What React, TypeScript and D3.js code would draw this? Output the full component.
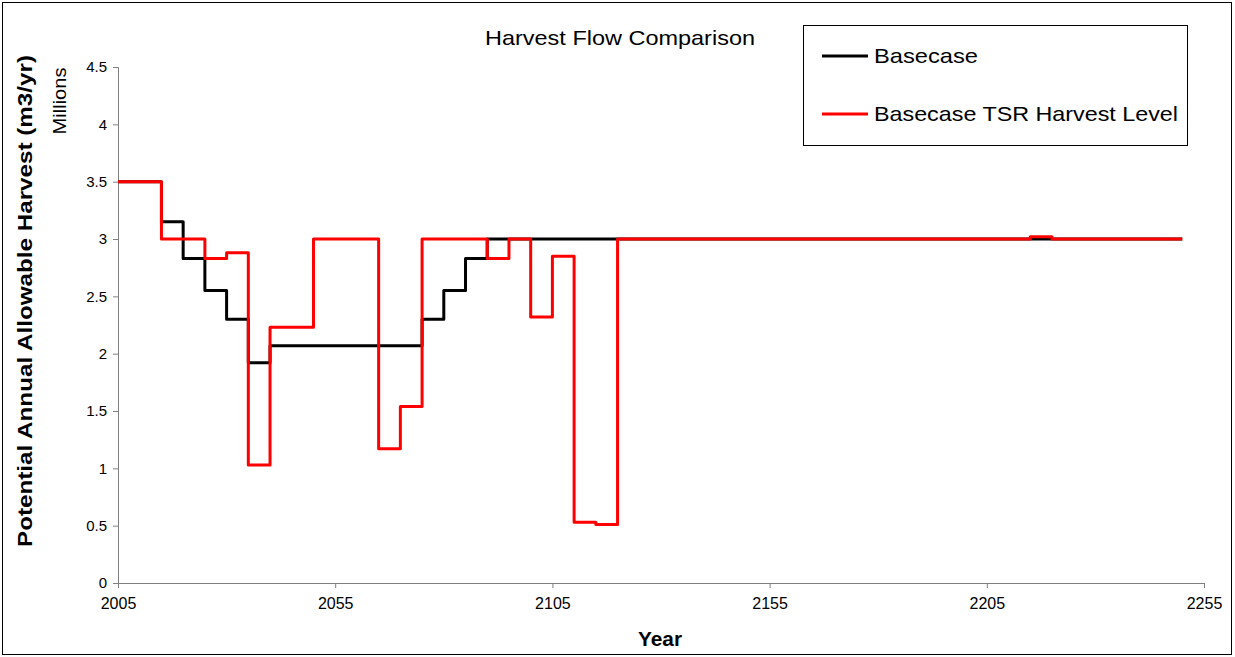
import React, { useEffect, useRef } from "react";
import * as d3 from "d3";

// Step change points (period start year -> value, millions m3/yr); last point closes the final period
const basecaseYears = [2005, 2015, 2020, 2025, 2030, 2035, 2040, 2075, 2080, 2085, 2090, 2250];
const basecaseValues = [3.5, 3.15, 2.83, 2.55, 2.3, 1.92, 2.07, 2.3, 2.55, 2.83, 3.0, 3.0];

const tsrYears = [2005, 2015, 2025, 2030, 2035, 2040, 2050, 2065, 2070, 2075, 2090, 2095, 2100, 2105, 2110, 2115, 2120, 2215, 2220, 2250];
const tsrValues = [3.5, 3.0, 2.83, 2.88, 1.03, 2.23, 3.0, 1.17, 1.54, 3.0, 2.83, 3.0, 2.32, 2.85, 0.53, 0.51, 3.0, 3.02, 3.0, 3.0];

const xTicks = [2005, 2055, 2105, 2155, 2205, 2255];
const yTicks = [0, 0.5, 1, 1.5, 2, 2.5, 3, 3.5, 4, 4.5];

const seriesNames = ["Basecase", "Basecase TSR Harvest Level"];
const seriesColors = ["#000000", "#ff0000"];

const W = 1235;
const H = 657;
const FONT = "'Liberation Sans', Arial, sans-serif";

export default function App() {
  const ref = useRef<SVGSVGElement>(null);

  useEffect(() => {
    const svg = d3.select(ref.current);
    svg.selectAll("*").remove();

    const x = d3.scaleLinear().domain([2005, 2255]).range([118, 1204]);
    const y = d3.scaleLinear().domain([0, 4.5]).range([583, 67]);

    svg.append("rect").attr("x", 0).attr("y", 0).attr("width", W).attr("height", H).attr("fill", "#fff");
    svg.append("rect").attr("x", 2.5).attr("y", 2.5).attr("width", 1229).attr("height", 652)
      .attr("fill", "none").attr("stroke", "#000").attr("stroke-width", 1);

    // Axes
    const yAxis = d3.axisLeft(y).tickValues(yTicks).tickSize(5).tickPadding(6).tickFormat((d) => String(d));
    const gy = svg.append("g").attr("transform", `translate(${x(2005)},0)`).call(yAxis);
    gy.select(".domain").attr("stroke", "#808080");
    gy.selectAll(".tick line").attr("stroke", "#808080");
    gy.selectAll("text").attr("font-family", FONT).attr("font-size", 15).attr("fill", "#000");

    const xAxis = d3.axisBottom(x).tickValues(xTicks).tickSize(5).tickPadding(10).tickFormat((d) => String(d));
    const gx = svg.append("g").attr("transform", `translate(0,${y(0)})`).call(xAxis);
    gx.select(".domain").attr("stroke", "#808080");
    gx.selectAll(".tick line").attr("stroke", "#808080");
    gx.selectAll("text").attr("font-family", FONT).attr("font-size", 16).attr("fill", "#000");

    const line = d3.line<[number, number]>()
      .x((d) => x(d[0]))
      .y((d) => y(d[1]))
      .curve(d3.curveStepAfter);

    const series = [
      basecaseYears.map((yr, i) => [yr, basecaseValues[i]] as [number, number]),
      tsrYears.map((yr, i) => [yr, tsrValues[i]] as [number, number]),
    ];
    series.forEach((pts, i) => {
      svg.append("path").attr("d", line(pts) as string)
        .attr("fill", "none").attr("stroke", seriesColors[i]).attr("stroke-width", 3)
        .attr("stroke-linejoin", "round");
    });

    // Titles
    svg.append("text").attr("x", 620).attr("y", 45).attr("text-anchor", "middle")
      .attr("font-family", FONT).attr("font-size", 21)
      .attr("textLength", 270).attr("lengthAdjust", "spacingAndGlyphs").text("Harvest Flow Comparison");
    svg.append("text").attr("x", 660).attr("y", 646).attr("text-anchor", "middle")
      .attr("font-family", FONT).attr("font-size", 21).attr("font-weight", "bold")
      .attr("textLength", 44).attr("lengthAdjust", "spacingAndGlyphs").text("Year");
    svg.append("text").attr("transform", "translate(32,301) rotate(-90)").attr("text-anchor", "middle")
      .attr("font-family", FONT).attr("font-size", 20).attr("font-weight", "bold")
      .attr("textLength", 492).attr("lengthAdjust", "spacingAndGlyphs")
      .text("Potential Annual Allowable Harvest (m3/yr)");
    svg.append("text").attr("transform", "translate(66,101) rotate(-90)").attr("text-anchor", "middle")
      .attr("font-family", FONT).attr("font-size", 18)
      .attr("textLength", 67).attr("lengthAdjust", "spacingAndGlyphs").text("Millions");

    // Legend
    const lg = svg.append("g");
    lg.append("rect").attr("x", 803.5).attr("y", 25.5).attr("width", 384).attr("height", 120)
      .attr("fill", "#fff").attr("stroke", "#000").attr("stroke-width", 1);
    const legendLengths = [104, 304];
    seriesNames.forEach((name, i) => {
      const ly = 56 + i * 58;
      lg.append("line").attr("x1", 822).attr("x2", 868).attr("y1", ly).attr("y2", ly)
        .attr("stroke", seriesColors[i]).attr("stroke-width", 3);
      lg.append("text").attr("x", 874).attr("y", ly + 7).attr("font-family", FONT).attr("font-size", 21)
        .attr("textLength", legendLengths[i]).attr("lengthAdjust", "spacingAndGlyphs")
        .text(name);
    });
  }, []);

  return (
    <svg ref={ref} width={W} height={H} style={{ position: "absolute", left: 0, top: 0 }} />
  );
}
